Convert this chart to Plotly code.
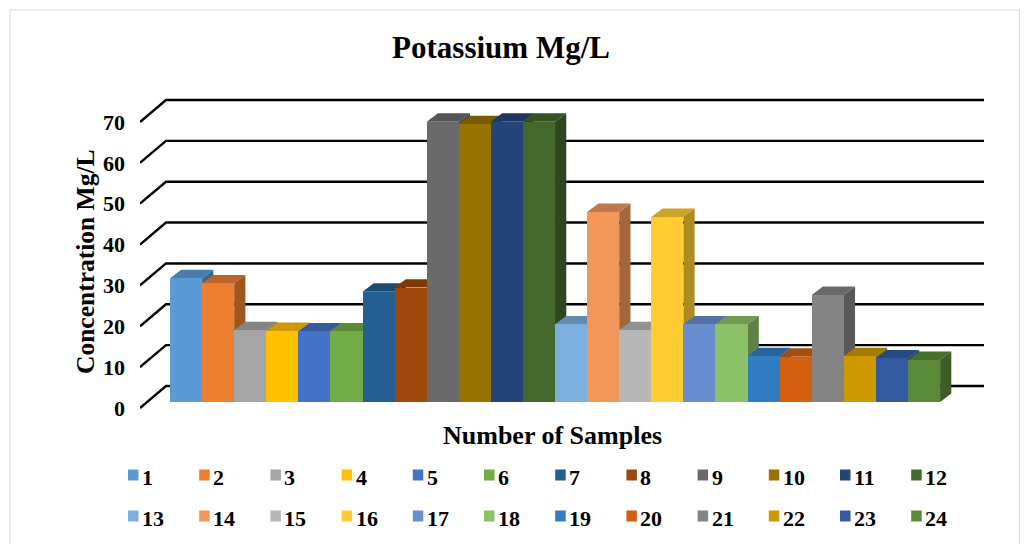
import plotly.graph_objects as go

samples = [str(i) for i in range(1, 25)]
potassium = [30.3, 29, 17.6, 17.4, 17.3, 17.3, 27, 28, 68.6, 68, 68.6, 68.6,
             19, 46.5, 17.6, 45.3, 19, 19, 11.2, 11.1, 26.2, 11.2, 10.7, 10.3]
colors = ["#5B9BD5", "#ED7D31", "#A5A5A5", "#FFC000", "#4472C4", "#70AD47",
          "#255E91", "#9E480E", "#6A6A6A", "#997300", "#264478", "#43682B",
          "#7CAFDD", "#F1975A", "#B7B7B7", "#FFCD33", "#698ED0", "#8CC168",
          "#327DC2", "#D26012", "#848484", "#CC9A00", "#335AA1", "#5A8A39"]
y_ticks = [0, 10, 20, 30, 40, 50, 60, 70]
y_tick_labels = ["<b>0</b>", "<b>10</b>", "<b>20</b>", "<b>30</b>",
                 "<b>40</b>", "<b>50</b>", "<b>60</b>", "<b>70</b>"]

FONT = "Liberation Serif"
W, H = 1030, 544
L, R, T, B = 140, 985, 95, 412
X_RANGE = [-0.935, 25.4]
Y_RANGE = [-0.98, 76.6]
WALL_DX, WALL_DY = 0.81, 5.38
BAR_BASE = 1.47
BAR_DX, BAR_DY = 0.35, 2.05
LAST_X = X_RANGE[1]


def shade(hex_color, k):
    r, g, b = (int(hex_color[i:i + 2], 16) for i in (1, 3, 5))
    return f"rgb({int(r * k)},{int(g * k)},{int(b * k)})"


def px(x):
    return (x - L) / (R - L)


def py(y):
    return (B - y) / (B - T)


fig = go.Figure()

# back wall gridlines with the receding stub at the left
for v in y_ticks:
    fig.add_trace(go.Scatter(
        x=[X_RANGE[0], X_RANGE[0] + WALL_DX, LAST_X - 0.03],
        y=[v, v + WALL_DY, v + WALL_DY],
        mode="lines", line=dict(color="#000000", width=2.4),
        showlegend=False, hoverinfo="skip"))

# top and side faces, left to right
for i, (value, color) in enumerate(zip(potassium, colors)):
    top = BAR_BASE + value
    fig.add_trace(go.Scatter(
        x=[i, i + BAR_DX, i + 1 + BAR_DX, i + 1, i],
        y=[top, top + BAR_DY, top + BAR_DY, top, top],
        mode="lines", fill="toself", fillcolor=shade(color, 0.8),
        line=dict(width=0), showlegend=False, hoverinfo="skip"))
    fig.add_trace(go.Scatter(
        x=[i + 1, i + 1 + BAR_DX, i + 1 + BAR_DX, i + 1, i + 1],
        y=[BAR_BASE, BAR_BASE + BAR_DY, top + BAR_DY, top, BAR_BASE],
        mode="lines", fill="toself", fillcolor=shade(color, 0.68),
        line=dict(width=0), showlegend=False, hoverinfo="skip"))

# front faces
for i, (name, value, color) in enumerate(zip(samples, potassium, colors)):
    fig.add_trace(go.Bar(
        x=[i + 0.5], y=[value], base=BAR_BASE, width=1.0, name=name,
        marker=dict(color=color, line=dict(width=0)),
        xaxis="x2", yaxis="y2", showlegend=False))

# legend laid out on two spaced rows
shapes = [dict(type="rect", xref="paper", yref="paper", x0=px(10), x1=px(1019.5),
               y0=py(560), y1=py(10), line=dict(color="#D9D9D9", width=1),
               fillcolor="rgba(0,0,0,0)", layer="below")]
annotations = [
    dict(xref="paper", yref="paper", x=px(552.5), y=py(435), text="<b>Number of Samples</b>",
         showarrow=False, xanchor="center", yanchor="middle",
         font=dict(family=FONT, size=26, color="#000000")),
    dict(xref="paper", yref="paper", x=px(85), y=py(262), text="<b>Concentration Mg/L</b>",
         showarrow=False, xanchor="center", yanchor="middle", textangle=-90,
         font=dict(family=FONT, size=25.5, color="#000000")),
]
COL0, COL_STEP = 128, 71.2
ROWS = [475, 516]
for i, (name, color) in enumerate(zip(samples, colors)):
    col, row = i % 12, i // 12
    x0 = COL0 + col * COL_STEP
    yc = ROWS[row]
    shapes.append(dict(type="rect", xref="paper", yref="paper", x0=px(x0), x1=px(x0 + 10.5),
                       y0=py(yc + 5.5), y1=py(yc - 5.5), fillcolor=color, line=dict(width=0)))
    annotations.append(dict(xref="paper", yref="paper", x=px(x0 + 12), y=py(yc + 2.5), text=f"<b>{name}</b>",
                            showarrow=False, xanchor="left", yanchor="middle",
                            font=dict(family=FONT, size=22, color="#000000")))

fig.update_layout(
    width=W, height=H,
    margin=dict(l=L, r=W - R, t=T, b=H - B, autoexpand=False),
    paper_bgcolor="#FFFFFF", plot_bgcolor="#FFFFFF",
    barmode="overlay", bargap=0,
    title=dict(text="<b>Potassium Mg/L</b>", x=501 / W, y=1 - 47 / H, xanchor="center", yanchor="middle",
               font=dict(family=FONT, size=31, color="#000000")),
    xaxis=dict(range=X_RANGE, showgrid=False, zeroline=False, showticklabels=False, ticks=""),
    yaxis=dict(range=Y_RANGE, showgrid=False, zeroline=False, tickvals=y_ticks, ticktext=y_tick_labels,
               ticks="", ticklabelstandoff=14,
               tickfont=dict(family=FONT, size=22, color="#000000")),
    xaxis2=dict(range=X_RANGE, overlaying="x", visible=False),
    yaxis2=dict(range=Y_RANGE, overlaying="y", visible=False),
    shapes=shapes, annotations=annotations, showlegend=False,
)

fig.write_html("out.html", config=dict(displayModeBar=False),
               post_script="document.body.style.margin='0';")
